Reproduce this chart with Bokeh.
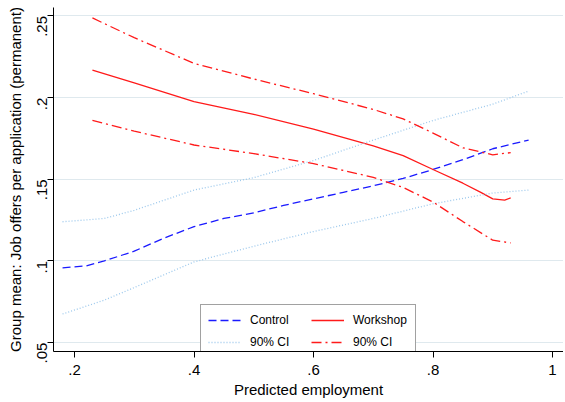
import math
from bokeh.plotting import figure
from bokeh.models import Range1d, Legend, LegendItem, FixedTicker
from bokeh.embed import file_html
from bokeh.resources import INLINE

# Data
x_ctrl = [0.18, 0.2, 0.22, 0.25, 0.3, 0.35, 0.4, 0.45, 0.5, 0.55, 0.6, 0.65, 0.7, 0.75, 0.8, 0.85, 0.9, 0.96]
ctrl = [0.0958, 0.0964, 0.097, 0.100, 0.106, 0.114, 0.121, 0.126, 0.1295, 0.134, 0.138, 0.142, 0.146, 0.1505, 0.156, 0.162, 0.1687, 0.174]
x_ctrl_ci = [0.18, 0.25, 0.3, 0.4, 0.5, 0.6, 0.7, 0.8, 0.9, 0.96]
ctrl_hi = [0.124, 0.126, 0.131, 0.1434, 0.151, 0.1615, 0.174, 0.186, 0.196, 0.204]
ctrl_lo = [0.0675, 0.076, 0.0837, 0.0994, 0.109, 0.118, 0.126, 0.135, 0.1416, 0.1434]

x_work = [0.23, 0.3, 0.4, 0.5, 0.6, 0.7, 0.75, 0.8, 0.85, 0.88, 0.9, 0.92, 0.93]
work = [0.2169, 0.209, 0.1976, 0.1898, 0.1807, 0.1705, 0.1645, 0.156, 0.1476, 0.142, 0.138, 0.1373, 0.1386]
x_work_ci = [0.23, 0.3, 0.4, 0.5, 0.6, 0.7, 0.75, 0.8, 0.85, 0.9, 0.93]
work_hi = [0.2488, 0.2367, 0.221, 0.2114, 0.2024, 0.1928, 0.187, 0.1783, 0.1693, 0.165, 0.1663]
work_lo = [0.1861, 0.1795, 0.171, 0.1657, 0.1596, 0.1512, 0.145, 0.1361, 0.1241, 0.1127, 0.111]

x_ticks = [0.2, 0.4, 0.6, 0.8, 1.0]
x_tick_labels = [".2", ".4", ".6", ".8", "1"]
y_ticks = [0.05, 0.1, 0.15, 0.2, 0.25]
y_tick_labels = [".05", ".1", ".15", ".2", ".25"]

FONT = "Liberation Sans"
BLUE = "#1a1aff"
RED = "#ff1a1a"
LIGHTBLUE = "#9cc8ec"

p = figure(width=563, height=400, output_backend="svg", toolbar_location=None,
           x_range=Range1d(0.16485, 1.0184), y_range=Range1d(0.04454, 0.2552),
           min_border_left=53, min_border_right=0, min_border_top=7, min_border_bottom=42)
p.outline_line_color = None
p.background_fill_color = "white"
p.border_fill_color = "white"

p.xgrid.grid_line_color = None
p.ygrid.grid_line_color = "#dfe9ee"
p.ygrid.grid_line_width = 1

p.xaxis.ticker = FixedTicker(ticks=x_ticks)
p.yaxis.ticker = FixedTicker(ticks=y_ticks)
p.xaxis.major_label_overrides = {t: l for t, l in zip(x_ticks, x_tick_labels)}
p.yaxis.major_label_overrides = {t: l for t, l in zip(y_ticks, y_tick_labels)}
p.yaxis.major_label_orientation = math.pi / 2
for ax in (p.xaxis, p.yaxis):
    ax.minor_tick_line_color = None
    ax.major_tick_out = 6
    ax.major_tick_in = 0
    ax.axis_line_color = "black"
    ax.major_tick_line_color = "black"
    ax.major_label_text_font = FONT
    ax.major_label_text_font_size = "15px"
    ax.major_label_text_color = "black"
    ax.axis_label_text_font = FONT
    ax.axis_label_text_font_size = "15px"
    ax.axis_label_text_font_style = "normal"
    ax.axis_label_text_color = "black"
p.xaxis.axis_label = "Predicted employment"
p.yaxis.axis_label = "Group mean: Job offers per application (permanent)"
p.xaxis.major_label_standoff = 7
p.xaxis.axis_label_standoff = 3
p.yaxis.major_label_standoff = 5
p.yaxis.axis_label_standoff = 6

r_ctrl = p.line(x_ctrl, ctrl, line_color=BLUE, line_width=1.3, line_dash="8 4")
r_work = p.line(x_work, work, line_color=RED, line_width=1.3)
r_chi = p.line(x_ctrl_ci, ctrl_hi, line_color=LIGHTBLUE, line_width=1.3, line_dash="1 2")
p.line(x_ctrl_ci, ctrl_lo, line_color=LIGHTBLUE, line_width=1.3, line_dash="1 2")
r_whi = p.line(x_work_ci, work_hi, line_color=RED, line_width=1.3, line_dash="10 4 2 4")
p.line(x_work_ci, work_lo, line_color=RED, line_width=1.3, line_dash="10 4 2 4")

legend = Legend(items=[
    LegendItem(label="Control", renderers=[r_ctrl]),
    LegendItem(label="90% CI", renderers=[r_chi]),
    LegendItem(label="Workshop", renderers=[r_work]),
    LegendItem(label="90% CI", renderers=[r_whi]),
], ncols=2, location=(147, -7))
legend.label_text_font = FONT
legend.label_text_font_size = "12px"
legend.label_text_color = "black"
legend.border_line_color = "#444444"
legend.border_line_width = 1
legend.background_fill_color = "white"
legend.background_fill_alpha = 1
legend.glyph_width = 33
legend.glyph_height = 16
legend.label_standoff = 9
legend.label_height = 16
legend.spacing = 6
legend.padding = 7
legend.margin = 0
legend.label_width = 55
p.add_layout(legend, "center")

open("out.html", "w").write(file_html(p, INLINE))
